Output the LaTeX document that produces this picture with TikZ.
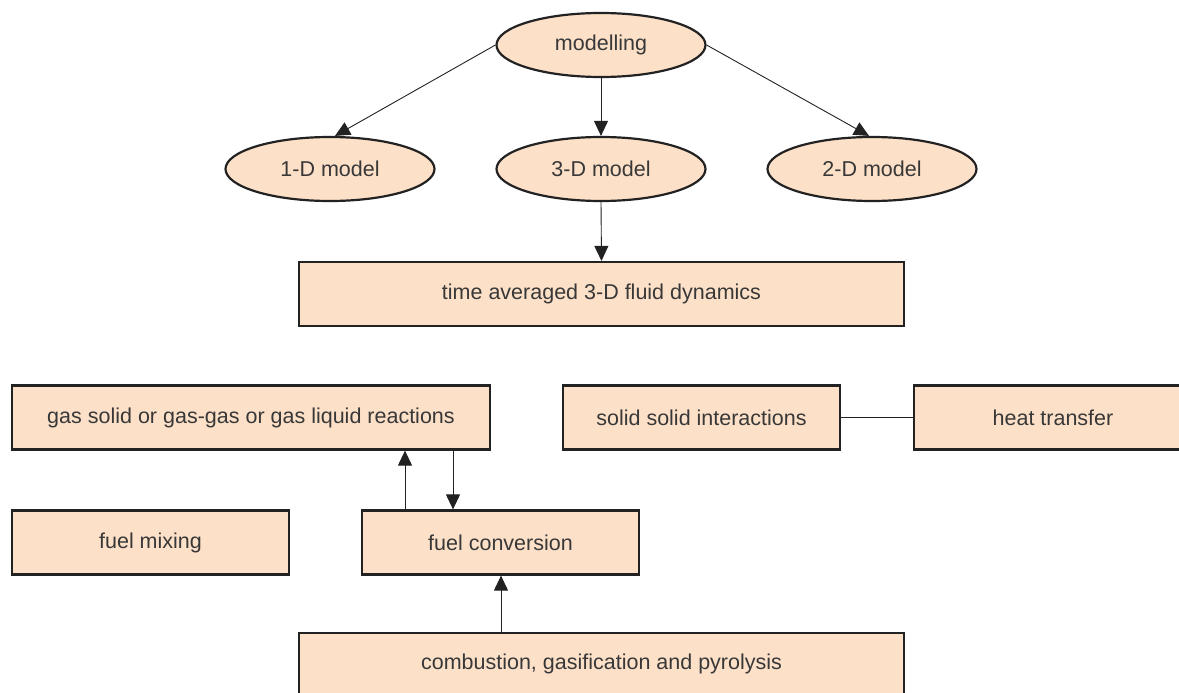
\documentclass[tikz,border=0pt]{standalone}
\usepackage{fontspec}
\setmainfont{Liberation Sans}
\usetikzlibrary{shapes.geometric,arrows.meta}
\definecolor{peach}{HTML}{FDE0C8}
\definecolor{txt}{HTML}{383838}
\definecolor{edge}{HTML}{222222}
\tikzset{
  oval/.style={ellipse, draw=edge, line width=2.2pt, fill=peach, minimum width=209pt, minimum height=64pt, inner sep=0pt, text=txt, font=\fontsize{21.5}{24}\selectfont},
  boxnode/.style={rectangle, draw=edge, line width=2.2pt, fill=peach, minimum height=64pt, inner sep=0pt, text=txt, font=\fontsize{21.5}{24}\selectfont},
  conn/.style={draw=edge, line width=0.9pt},
  arr/.style={conn, -{Triangle[length=15pt,width=14pt]}}
}
\begin{document}
\begin{tikzpicture}[x=1pt,y=-1pt]
\useasboundingbox (0,0) rectangle (1179,693);
\clip (0,0) rectangle (1179,693);
\node[oval] (mod) at (601,45) {modelling};
\node[oval] (m1) at (330,169) {1-D model};
\node[oval] (m3) at (601,169) {3-D model};
\node[oval] (m2) at (872,169) {2-D model};
\node[boxnode, minimum width=605pt] (tad) at (601.5,294) {time averaged 3-D fluid dynamics};
\node[boxnode, minimum width=478pt] (gas) at (251,417.5) {gas solid or gas-gas or gas liquid reactions};
\node[boxnode, minimum width=277pt] (ssi) at (701.5,417.5) {solid solid interactions};
\node[boxnode, minimum width=278pt] (heat) at (1053,417.5) {heat transfer};
\node[boxnode, minimum width=277pt] (mix) at (150.5,542.5) {fuel mixing};
\node[boxnode, minimum width=277pt] (conv) at (500.5,542.5) {fuel conversion};
\node[boxnode, minimum width=605pt, minimum height=64pt] (comb) at (601.5,665) {};
\node[text=txt, font=\fontsize{21.5}{24}\selectfont] (combt) at (601.5,664) {combustion, gasification and pyrolysis};
\coordinate (p1) at (335,137);
\coordinate (p2) at (869,137);
\draw[arr] (mod.west) -- (m1.north -| p1);
\draw[arr] (mod.east) -- (m2.north -| p2);
\draw[arr] (mod.south) -- (m3.north);
\draw[arr] (m3.south) -- (tad.north);
\draw[conn] (ssi.east) -- (heat.west);
\coordinate (u) at (405,0);
\coordinate (d) at (453,0);
\coordinate (c) at (501,0);
\draw[arr] (conv.north -| u) -- (gas.south -| u);
\draw[arr] (gas.south -| d) -- (conv.north -| d);
\draw[arr] (comb.north -| c) -- (conv.south -| c);
\end{tikzpicture}
\end{document}
